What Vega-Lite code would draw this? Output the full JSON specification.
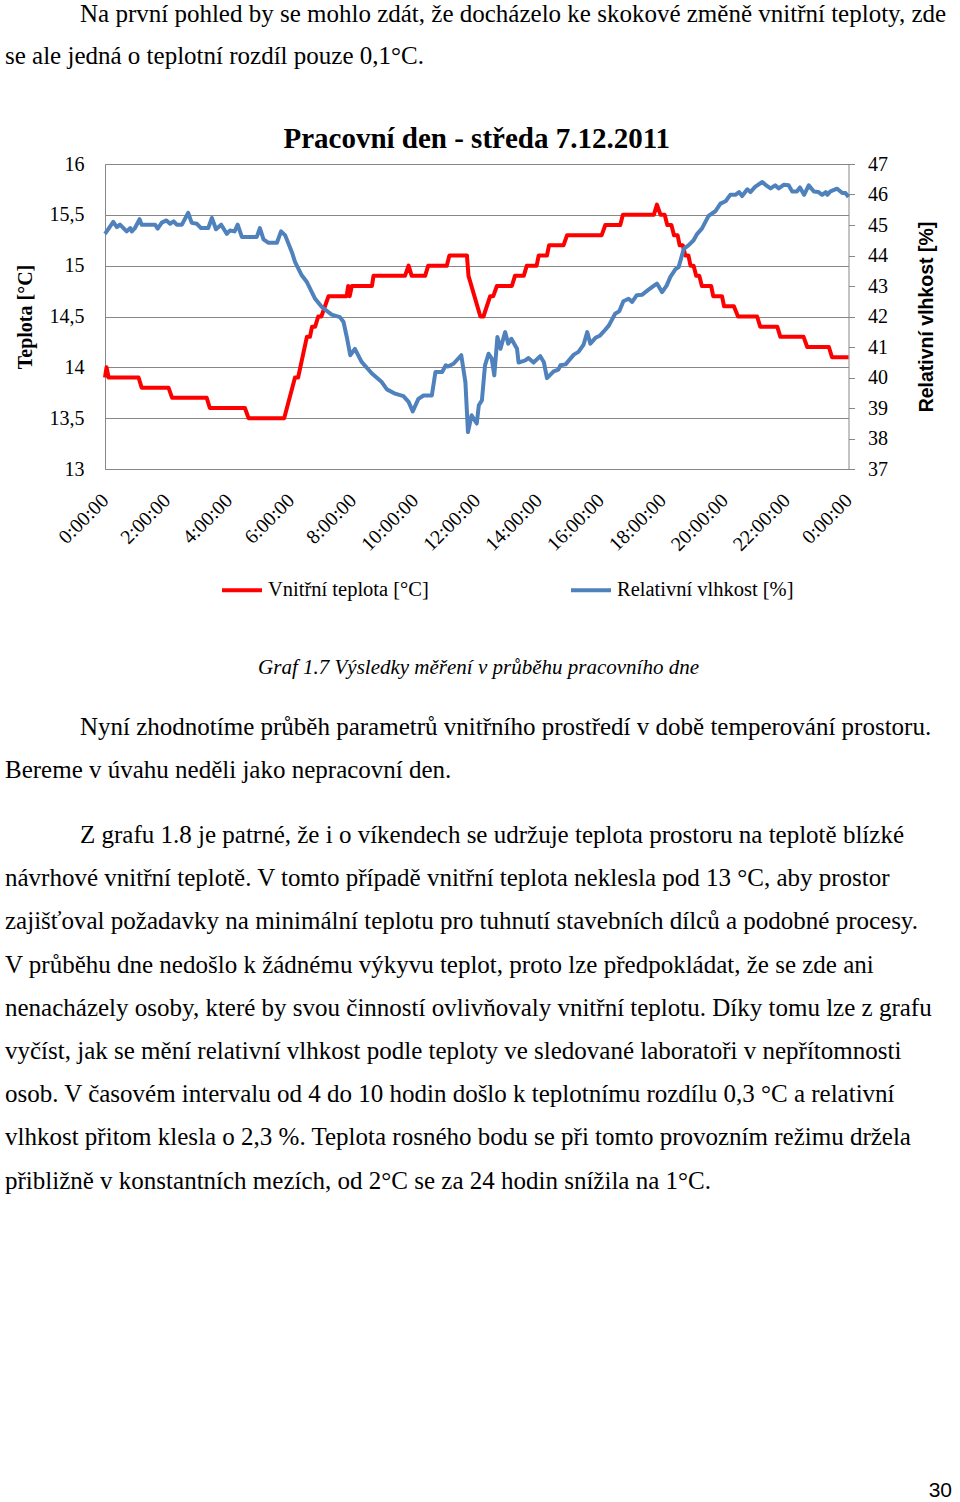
{
  "$schema": "https://vega.github.io/schema/vega-lite/v6.json",
  "background": "white",
  "padding": {"left": 5, "top": 2, "right": 3, "bottom": 0},
  "columns": 1,
  "align": "none",
  "spacing": 56,
  "resolve": {"scale": {"color": "independent"}, "legend": {"color": "independent"}},
  "title": {"text": "30", "orient": "bottom", "anchor": "end", "font": "Liberation Sans", "fontSize": 21, "fontWeight": "normal", "color": "black", "offset": 286},
  "config": {
    "view": {"stroke": null},
    "axis": {"labelFont": "Liberation Serif", "labelFontSize": 20, "labelColor": "black", "domainColor": "#878787", "tickColor": "#878787"}
  },
  "datasets": {
    "teplota": [
      {"cas": "2011-12-07T00:00", "teplota": 13.9},
      {"cas": "2011-12-07T00:03", "teplota": 14.0},
      {"cas": "2011-12-07T00:07", "teplota": 13.9},
      {"cas": "2011-12-07T01:05", "teplota": 13.9},
      {"cas": "2011-12-07T01:11", "teplota": 13.8},
      {"cas": "2011-12-07T02:03", "teplota": 13.8},
      {"cas": "2011-12-07T02:10", "teplota": 13.7},
      {"cas": "2011-12-07T03:17", "teplota": 13.7},
      {"cas": "2011-12-07T03:23", "teplota": 13.6},
      {"cas": "2011-12-07T04:31", "teplota": 13.6},
      {"cas": "2011-12-07T04:38", "teplota": 13.5},
      {"cas": "2011-12-07T05:47", "teplota": 13.5},
      {"cas": "2011-12-07T06:08", "teplota": 13.9},
      {"cas": "2011-12-07T06:14", "teplota": 13.9},
      {"cas": "2011-12-07T06:31", "teplota": 14.3},
      {"cas": "2011-12-07T06:37", "teplota": 14.3},
      {"cas": "2011-12-07T06:41", "teplota": 14.4},
      {"cas": "2011-12-07T06:47", "teplota": 14.4},
      {"cas": "2011-12-07T06:53", "teplota": 14.5},
      {"cas": "2011-12-07T06:59", "teplota": 14.5},
      {"cas": "2011-12-07T07:13", "teplota": 14.7},
      {"cas": "2011-12-07T07:48", "teplota": 14.7},
      {"cas": "2011-12-07T07:51", "teplota": 14.8},
      {"cas": "2011-12-07T07:54", "teplota": 14.7},
      {"cas": "2011-12-07T07:58", "teplota": 14.8},
      {"cas": "2011-12-07T08:37", "teplota": 14.8},
      {"cas": "2011-12-07T08:40", "teplota": 14.9},
      {"cas": "2011-12-07T09:41", "teplota": 14.9},
      {"cas": "2011-12-07T09:48", "teplota": 15.0},
      {"cas": "2011-12-07T09:54", "teplota": 14.9},
      {"cas": "2011-12-07T10:20", "teplota": 14.9},
      {"cas": "2011-12-07T10:26", "teplota": 15.0},
      {"cas": "2011-12-07T11:02", "teplota": 15.0},
      {"cas": "2011-12-07T11:07", "teplota": 15.1},
      {"cas": "2011-12-07T11:41", "teplota": 15.1},
      {"cas": "2011-12-07T11:44", "teplota": 14.9},
      {"cas": "2011-12-07T12:07", "teplota": 14.5},
      {"cas": "2011-12-07T12:13", "teplota": 14.5},
      {"cas": "2011-12-07T12:26", "teplota": 14.7},
      {"cas": "2011-12-07T12:32", "teplota": 14.7},
      {"cas": "2011-12-07T12:39", "teplota": 14.8},
      {"cas": "2011-12-07T13:08", "teplota": 14.8},
      {"cas": "2011-12-07T13:14", "teplota": 14.9},
      {"cas": "2011-12-07T13:31", "teplota": 14.9},
      {"cas": "2011-12-07T13:37", "teplota": 15.0},
      {"cas": "2011-12-07T13:56", "teplota": 15.0},
      {"cas": "2011-12-07T14:00", "teplota": 15.1},
      {"cas": "2011-12-07T14:16", "teplota": 15.1},
      {"cas": "2011-12-07T14:20", "teplota": 15.2},
      {"cas": "2011-12-07T14:48", "teplota": 15.2},
      {"cas": "2011-12-07T14:55", "teplota": 15.3},
      {"cas": "2011-12-07T16:02", "teplota": 15.3},
      {"cas": "2011-12-07T16:09", "teplota": 15.4},
      {"cas": "2011-12-07T16:38", "teplota": 15.4},
      {"cas": "2011-12-07T16:43", "teplota": 15.5},
      {"cas": "2011-12-07T17:43", "teplota": 15.5},
      {"cas": "2011-12-07T17:49", "teplota": 15.6},
      {"cas": "2011-12-07T17:56", "teplota": 15.5},
      {"cas": "2011-12-07T18:04", "teplota": 15.5},
      {"cas": "2011-12-07T18:09", "teplota": 15.4},
      {"cas": "2011-12-07T18:17", "teplota": 15.4},
      {"cas": "2011-12-07T18:22", "teplota": 15.3},
      {"cas": "2011-12-07T18:29", "teplota": 15.3},
      {"cas": "2011-12-07T18:33", "teplota": 15.2},
      {"cas": "2011-12-07T18:39", "teplota": 15.2},
      {"cas": "2011-12-07T18:44", "teplota": 15.1},
      {"cas": "2011-12-07T18:50", "teplota": 15.1},
      {"cas": "2011-12-07T18:54", "teplota": 15.0},
      {"cas": "2011-12-07T19:00", "teplota": 15.0},
      {"cas": "2011-12-07T19:05", "teplota": 14.9},
      {"cas": "2011-12-07T19:11", "teplota": 14.9},
      {"cas": "2011-12-07T19:16", "teplota": 14.8},
      {"cas": "2011-12-07T19:34", "teplota": 14.8},
      {"cas": "2011-12-07T19:38", "teplota": 14.7},
      {"cas": "2011-12-07T19:55", "teplota": 14.7},
      {"cas": "2011-12-07T19:59", "teplota": 14.6},
      {"cas": "2011-12-07T20:18", "teplota": 14.6},
      {"cas": "2011-12-07T20:26", "teplota": 14.5},
      {"cas": "2011-12-07T21:03", "teplota": 14.5},
      {"cas": "2011-12-07T21:09", "teplota": 14.4},
      {"cas": "2011-12-07T21:42", "teplota": 14.4},
      {"cas": "2011-12-07T21:48", "teplota": 14.3},
      {"cas": "2011-12-07T22:33", "teplota": 14.3},
      {"cas": "2011-12-07T22:40", "teplota": 14.2},
      {"cas": "2011-12-07T23:22", "teplota": 14.2},
      {"cas": "2011-12-07T23:28", "teplota": 14.1},
      {"cas": "2011-12-08T00:00", "teplota": 14.1}
    ],
    "vlhkost": [
      {"cas": "2011-12-07T00:00", "vlhkost": 44.71},
      {"cas": "2011-12-07T00:16", "vlhkost": 45.10},
      {"cas": "2011-12-07T00:23", "vlhkost": 44.93},
      {"cas": "2011-12-07T00:29", "vlhkost": 45.01},
      {"cas": "2011-12-07T00:42", "vlhkost": 44.79},
      {"cas": "2011-12-07T00:49", "vlhkost": 44.90},
      {"cas": "2011-12-07T00:52", "vlhkost": 44.79},
      {"cas": "2011-12-07T00:58", "vlhkost": 44.90},
      {"cas": "2011-12-07T01:07", "vlhkost": 45.19},
      {"cas": "2011-12-07T01:11", "vlhkost": 45.01},
      {"cas": "2011-12-07T01:37", "vlhkost": 45.01},
      {"cas": "2011-12-07T01:42", "vlhkost": 44.88},
      {"cas": "2011-12-07T01:50", "vlhkost": 45.08},
      {"cas": "2011-12-07T01:59", "vlhkost": 45.15},
      {"cas": "2011-12-07T02:06", "vlhkost": 45.04},
      {"cas": "2011-12-07T02:13", "vlhkost": 45.12},
      {"cas": "2011-12-07T02:19", "vlhkost": 45.01},
      {"cas": "2011-12-07T02:29", "vlhkost": 45.01},
      {"cas": "2011-12-07T02:41", "vlhkost": 45.40},
      {"cas": "2011-12-07T02:48", "vlhkost": 45.07},
      {"cas": "2011-12-07T02:58", "vlhkost": 45.04},
      {"cas": "2011-12-07T03:06", "vlhkost": 44.90},
      {"cas": "2011-12-07T03:20", "vlhkost": 44.90},
      {"cas": "2011-12-07T03:27", "vlhkost": 45.23},
      {"cas": "2011-12-07T03:35", "vlhkost": 44.86},
      {"cas": "2011-12-07T03:45", "vlhkost": 45.01},
      {"cas": "2011-12-07T03:56", "vlhkost": 44.71},
      {"cas": "2011-12-07T04:02", "vlhkost": 44.82},
      {"cas": "2011-12-07T04:11", "vlhkost": 44.79},
      {"cas": "2011-12-07T04:17", "vlhkost": 45.01},
      {"cas": "2011-12-07T04:25", "vlhkost": 44.61},
      {"cas": "2011-12-07T04:54", "vlhkost": 44.61},
      {"cas": "2011-12-07T05:00", "vlhkost": 44.90},
      {"cas": "2011-12-07T05:07", "vlhkost": 44.53},
      {"cas": "2011-12-07T05:16", "vlhkost": 44.42},
      {"cas": "2011-12-07T05:33", "vlhkost": 44.42},
      {"cas": "2011-12-07T05:41", "vlhkost": 44.79},
      {"cas": "2011-12-07T05:49", "vlhkost": 44.66},
      {"cas": "2011-12-07T06:02", "vlhkost": 44.11},
      {"cas": "2011-12-07T06:08", "vlhkost": 43.79},
      {"cas": "2011-12-07T06:21", "vlhkost": 43.35},
      {"cas": "2011-12-07T06:31", "vlhkost": 43.13},
      {"cas": "2011-12-07T06:47", "vlhkost": 42.58},
      {"cas": "2011-12-07T07:00", "vlhkost": 42.31},
      {"cas": "2011-12-07T07:19", "vlhkost": 42.06},
      {"cas": "2011-12-07T07:35", "vlhkost": 41.98},
      {"cas": "2011-12-07T07:42", "vlhkost": 41.82},
      {"cas": "2011-12-07T07:49", "vlhkost": 41.27},
      {"cas": "2011-12-07T07:55", "vlhkost": 40.73},
      {"cas": "2011-12-07T08:04", "vlhkost": 40.94},
      {"cas": "2011-12-07T08:17", "vlhkost": 40.51},
      {"cas": "2011-12-07T08:37", "vlhkost": 40.13},
      {"cas": "2011-12-07T08:56", "vlhkost": 39.85},
      {"cas": "2011-12-07T09:06", "vlhkost": 39.61},
      {"cas": "2011-12-07T09:22", "vlhkost": 39.47},
      {"cas": "2011-12-07T09:38", "vlhkost": 39.39},
      {"cas": "2011-12-07T09:48", "vlhkost": 39.20},
      {"cas": "2011-12-07T09:56", "vlhkost": 38.89},
      {"cas": "2011-12-07T10:07", "vlhkost": 39.30},
      {"cas": "2011-12-07T10:17", "vlhkost": 39.41},
      {"cas": "2011-12-07T10:33", "vlhkost": 39.41},
      {"cas": "2011-12-07T10:40", "vlhkost": 40.18},
      {"cas": "2011-12-07T10:53", "vlhkost": 40.18},
      {"cas": "2011-12-07T11:00", "vlhkost": 40.40},
      {"cas": "2011-12-07T11:04", "vlhkost": 40.36},
      {"cas": "2011-12-07T11:15", "vlhkost": 40.45},
      {"cas": "2011-12-07T11:30", "vlhkost": 40.73},
      {"cas": "2011-12-07T11:38", "vlhkost": 39.85},
      {"cas": "2011-12-07T11:43", "vlhkost": 38.21},
      {"cas": "2011-12-07T11:50", "vlhkost": 38.76},
      {"cas": "2011-12-07T12:00", "vlhkost": 38.49},
      {"cas": "2011-12-07T12:04", "vlhkost": 39.09},
      {"cas": "2011-12-07T12:10", "vlhkost": 39.25},
      {"cas": "2011-12-07T12:16", "vlhkost": 40.40},
      {"cas": "2011-12-07T12:23", "vlhkost": 40.78},
      {"cas": "2011-12-07T12:29", "vlhkost": 40.62},
      {"cas": "2011-12-07T12:34", "vlhkost": 40.07},
      {"cas": "2011-12-07T12:40", "vlhkost": 41.33},
      {"cas": "2011-12-07T12:46", "vlhkost": 40.94},
      {"cas": "2011-12-07T12:55", "vlhkost": 41.49},
      {"cas": "2011-12-07T13:01", "vlhkost": 41.11},
      {"cas": "2011-12-07T13:07", "vlhkost": 41.27},
      {"cas": "2011-12-07T13:18", "vlhkost": 40.94},
      {"cas": "2011-12-07T13:21", "vlhkost": 40.49},
      {"cas": "2011-12-07T13:34", "vlhkost": 40.56},
      {"cas": "2011-12-07T13:40", "vlhkost": 40.64},
      {"cas": "2011-12-07T13:50", "vlhkost": 40.49},
      {"cas": "2011-12-07T14:03", "vlhkost": 40.70},
      {"cas": "2011-12-07T14:10", "vlhkost": 40.50},
      {"cas": "2011-12-07T14:16", "vlhkost": 39.98},
      {"cas": "2011-12-07T14:29", "vlhkost": 40.20},
      {"cas": "2011-12-07T14:38", "vlhkost": 40.26},
      {"cas": "2011-12-07T14:42", "vlhkost": 40.40},
      {"cas": "2011-12-07T14:52", "vlhkost": 40.43},
      {"cas": "2011-12-07T15:08", "vlhkost": 40.75},
      {"cas": "2011-12-07T15:17", "vlhkost": 40.84},
      {"cas": "2011-12-07T15:27", "vlhkost": 41.08},
      {"cas": "2011-12-07T15:34", "vlhkost": 41.49},
      {"cas": "2011-12-07T15:40", "vlhkost": 41.11},
      {"cas": "2011-12-07T15:50", "vlhkost": 41.30},
      {"cas": "2011-12-07T15:59", "vlhkost": 41.38},
      {"cas": "2011-12-07T16:06", "vlhkost": 41.51},
      {"cas": "2011-12-07T16:16", "vlhkost": 41.71},
      {"cas": "2011-12-07T16:28", "vlhkost": 42.09},
      {"cas": "2011-12-07T16:36", "vlhkost": 42.17},
      {"cas": "2011-12-07T16:44", "vlhkost": 42.50},
      {"cas": "2011-12-07T16:54", "vlhkost": 42.58},
      {"cas": "2011-12-07T17:01", "vlhkost": 42.48},
      {"cas": "2011-12-07T17:10", "vlhkost": 42.70},
      {"cas": "2011-12-07T17:20", "vlhkost": 42.71},
      {"cas": "2011-12-07T17:29", "vlhkost": 42.83},
      {"cas": "2011-12-07T17:40", "vlhkost": 42.97},
      {"cas": "2011-12-07T17:49", "vlhkost": 43.08},
      {"cas": "2011-12-07T17:59", "vlhkost": 42.80},
      {"cas": "2011-12-07T18:08", "vlhkost": 43.02},
      {"cas": "2011-12-07T18:15", "vlhkost": 43.30},
      {"cas": "2011-12-07T18:25", "vlhkost": 43.55},
      {"cas": "2011-12-07T18:31", "vlhkost": 43.62},
      {"cas": "2011-12-07T18:41", "vlhkost": 44.22},
      {"cas": "2011-12-07T18:50", "vlhkost": 44.33},
      {"cas": "2011-12-07T19:00", "vlhkost": 44.50},
      {"cas": "2011-12-07T19:07", "vlhkost": 44.71},
      {"cas": "2011-12-07T19:16", "vlhkost": 44.88},
      {"cas": "2011-12-07T19:29", "vlhkost": 45.30},
      {"cas": "2011-12-07T19:42", "vlhkost": 45.45},
      {"cas": "2011-12-07T19:52", "vlhkost": 45.70},
      {"cas": "2011-12-07T20:02", "vlhkost": 45.78},
      {"cas": "2011-12-07T20:11", "vlhkost": 45.99},
      {"cas": "2011-12-07T20:21", "vlhkost": 45.99},
      {"cas": "2011-12-07T20:28", "vlhkost": 46.08},
      {"cas": "2011-12-07T20:34", "vlhkost": 45.95},
      {"cas": "2011-12-07T20:44", "vlhkost": 46.17},
      {"cas": "2011-12-07T20:50", "vlhkost": 46.08},
      {"cas": "2011-12-07T20:59", "vlhkost": 46.25},
      {"cas": "2011-12-07T21:13", "vlhkost": 46.41},
      {"cas": "2011-12-07T21:22", "vlhkost": 46.28},
      {"cas": "2011-12-07T21:29", "vlhkost": 46.20},
      {"cas": "2011-12-07T21:38", "vlhkost": 46.30},
      {"cas": "2011-12-07T21:45", "vlhkost": 46.20},
      {"cas": "2011-12-07T21:55", "vlhkost": 46.32},
      {"cas": "2011-12-07T22:04", "vlhkost": 46.30},
      {"cas": "2011-12-07T22:11", "vlhkost": 46.10},
      {"cas": "2011-12-07T22:20", "vlhkost": 46.10},
      {"cas": "2011-12-07T22:26", "vlhkost": 46.23},
      {"cas": "2011-12-07T22:34", "vlhkost": 45.99},
      {"cas": "2011-12-07T22:43", "vlhkost": 46.30},
      {"cas": "2011-12-07T22:53", "vlhkost": 46.10},
      {"cas": "2011-12-07T23:02", "vlhkost": 46.08},
      {"cas": "2011-12-07T23:09", "vlhkost": 45.99},
      {"cas": "2011-12-07T23:16", "vlhkost": 46.08},
      {"cas": "2011-12-07T23:19", "vlhkost": 45.99},
      {"cas": "2011-12-07T23:25", "vlhkost": 46.10},
      {"cas": "2011-12-07T23:38", "vlhkost": 46.19},
      {"cas": "2011-12-07T23:48", "vlhkost": 46.05},
      {"cas": "2011-12-07T23:54", "vlhkost": 46.05},
      {"cas": "2011-12-08T00:00", "vlhkost": 45.92}
    ],
    "text1": [
      {"line": 0, "text": "\u200b\u00a0\u00a0\u00a0\u00a0\u00a0\u00a0\u00a0\u00a0\u00a0\u00a0\u00a0\u00a0Na první pohled by se mohlo zdát, že docházelo ke skokové změně vnitřní teploty, zde"},
      {"line": 1, "text": "se ale jedná o teplotní rozdíl pouze 0,1°C."}
    ],
    "text2": [
      {"line": 0, "text": "\u200b\u00a0\u00a0\u00a0\u00a0\u00a0\u00a0\u00a0\u00a0\u00a0\u00a0\u00a0\u00a0Nyní zhodnotíme průběh parametrů vnitřního prostředí v době temperování prostoru."},
      {"line": 1, "text": "Bereme v úvahu neděli jako nepracovní den."},
      {"line": 2.5, "text": "\u200b\u00a0\u00a0\u00a0\u00a0\u00a0\u00a0\u00a0\u00a0\u00a0\u00a0\u00a0\u00a0Z grafu 1.8 je patrné, že i o víkendech se udržuje teplota prostoru na teplotě blízké"},
      {"line": 3.5, "text": "návrhové vnitřní teplotě. V tomto případě vnitřní teplota neklesla pod 13 °C, aby prostor"},
      {"line": 4.5, "text": "zajišťoval požadavky na minimální teplotu pro tuhnutí stavebních dílců a podobné procesy."},
      {"line": 5.5, "text": "V průběhu dne nedošlo k žádnému výkyvu teplot, proto lze předpokládat, že se zde ani"},
      {"line": 6.5, "text": "nenacházely osoby, které by svou činností ovlivňovaly vnitřní teplotu. Díky tomu lze z grafu"},
      {"line": 7.5, "text": "vyčíst, jak se mění relativní vlhkost podle teploty ve sledované laboratoři v nepřítomnosti"},
      {"line": 8.5, "text": "osob. V časovém intervalu od 4 do 10 hodin došlo k teplotnímu rozdílu 0,3 °C a relativní"},
      {"line": 9.5, "text": "vlhkost přitom klesla o 2,3 %. Teplota rosného bodu se při tomto provozním režimu držela"},
      {"line": 10.5, "text": "přibližně v konstantních mezích, od 2°C se za 24 hodin snížila na 1°C."}
    ]
  },
  "concat": [
    {
      "width": 947,
      "height": 42,
      "data": {"name": "text1"},
      "mark": {"type": "text", "align": "left", "baseline": "middle", "font": "Liberation Serif", "fontSize": 25, "color": "black"},
      "encoding": {
        "x": {"value": 0},
        "y": {"field": "line", "type": "quantitative", "scale": {"domain": [0, 1], "reverse": true, "nice": false, "zero": false}, "axis": null},
        "text": {"field": "text"}
      }
    },
    {
      "spacing": 0,
      "resolve": {"scale": {"color": "independent"}, "legend": {"color": "independent"}},
      "hconcat": [
        {
          "width": 9.5,
          "height": 1,
          "data": {"values": []},
          "mark": "point"
        },
        {
          "width": 743.5,
          "height": 305,
          "title": {"text": "Pracovní den - středa 7.12.2011", "font": "Liberation Serif", "fontSize": 29, "fontWeight": "bold", "color": "black", "anchor": "middle", "offset": 0},
          "layer": [
            {
              "data": {"name": "teplota"},
              "mark": {"type": "line", "strokeWidth": 4, "strokeJoin": "round"},
              "encoding": {
                "x": {"field": "cas", "type": "temporal", "title": null,
                  "scale": {"domain": [{"year": 2011, "month": 12, "date": 7, "hours": 0}, {"year": 2011, "month": 12, "date": 8, "hours": 0}]},
                  "axis": {"format": "%-H:%M:%S", "values": [
                    {"year": 2011, "month": 12, "date": 7, "hours": 0}, {"year": 2011, "month": 12, "date": 7, "hours": 2}, {"year": 2011, "month": 12, "date": 7, "hours": 4},
                    {"year": 2011, "month": 12, "date": 7, "hours": 6}, {"year": 2011, "month": 12, "date": 7, "hours": 8}, {"year": 2011, "month": 12, "date": 7, "hours": 10},
                    {"year": 2011, "month": 12, "date": 7, "hours": 12}, {"year": 2011, "month": 12, "date": 7, "hours": 14}, {"year": 2011, "month": 12, "date": 7, "hours": 16},
                    {"year": 2011, "month": 12, "date": 7, "hours": 18}, {"year": 2011, "month": 12, "date": 7, "hours": 20}, {"year": 2011, "month": 12, "date": 7, "hours": 22},
                    {"year": 2011, "month": 12, "date": 8, "hours": 0}],
                    "labelAngle": -45, "labelAlign": "right", "labelBaseline": "middle", "labelPadding": 28, "ticks": false, "grid": false, "labelFlush": false, "labelOverlap": false}},
                "y": {"field": "teplota", "type": "quantitative",
                  "scale": {"domain": [13, 16], "nice": false, "zero": false},
                  "axis": {"title": "Teplota [°C]", "titleFont": "Liberation Serif", "titleFontSize": 20, "titleFontWeight": "bold", "titleColor": "black", "titlePadding": 14,
                    "values": [13, 13.5, 14, 14.5, 15, 15.5, 16], "format": "~g", "labelExpr": "replace(datum.label, '.', ',')", "labelPadding": 21, "ticks": false,
                    "grid": true, "gridColor": "#878787", "gridWidth": 1}},
                "color": {"datum": "Vnitřní teplota [°C]", "type": "nominal",
                  "scale": {"domain": ["Vnitřní teplota [°C]", "Relativní vlhkost [%]"], "range": ["#ff0000", "#4f81bd"]},
                  "legend": {"orient": "none", "legendX": 115, "legendY": 404, "direction": "horizontal", "title": null, "symbolType": "stroke", "symbolSize": 1600, "symbolStrokeWidth": 4, "labelFont": "Liberation Serif", "labelFontSize": 20.5, "labelColor": "black", "labelOffset": 4, "columnPadding": 134, "labelLimit": 400}}
              }
            },
            {
              "data": {"name": "vlhkost"},
              "mark": {"type": "line", "strokeWidth": 4, "strokeJoin": "round"},
              "encoding": {
                "x": {"field": "cas", "type": "temporal", "title": null},
                "y": {"field": "vlhkost", "type": "quantitative",
                  "scale": {"domain": [37, 47], "nice": false, "zero": false},
                  "axis": {"orient": "right", "title": "Relativní vlhkost [%]", "titleFont": "Liberation Sans", "titleFontSize": 19.5, "titleFontWeight": "bold", "titleColor": "black", "titlePadding": 30, "titleAngle": -90, "titleBaseline": "top",
                    "values": [37, 38, 39, 40, 41, 42, 43, 44, 45, 46, 47], "labelPadding": 13, "tickSize": 6, "grid": false}},
                "color": {"datum": "Relativní vlhkost [%]", "type": "nominal"}
              }
            }
          ],
          "resolve": {"scale": {"y": "independent"}}
        }
      ]
    },
    {
      "width": 947,
      "height": 453.6,
      "title": {"text": "Graf 1.7 Výsledky měření v průběhu pracovního dne", "font": "Liberation Serif", "fontSize": 21, "fontStyle": "italic", "fontWeight": "normal", "color": "black", "anchor": "middle", "offset": 37},
      "data": {"name": "text2"},
      "mark": {"type": "text", "align": "left", "baseline": "middle", "font": "Liberation Serif", "fontSize": 25, "color": "black"},
      "encoding": {
        "x": {"value": 0},
        "y": {"field": "line", "type": "quantitative", "scale": {"domain": [0, 10.5], "reverse": true, "nice": false, "zero": false}, "axis": null},
        "text": {"field": "text"}
      }
    }
  ]
}
